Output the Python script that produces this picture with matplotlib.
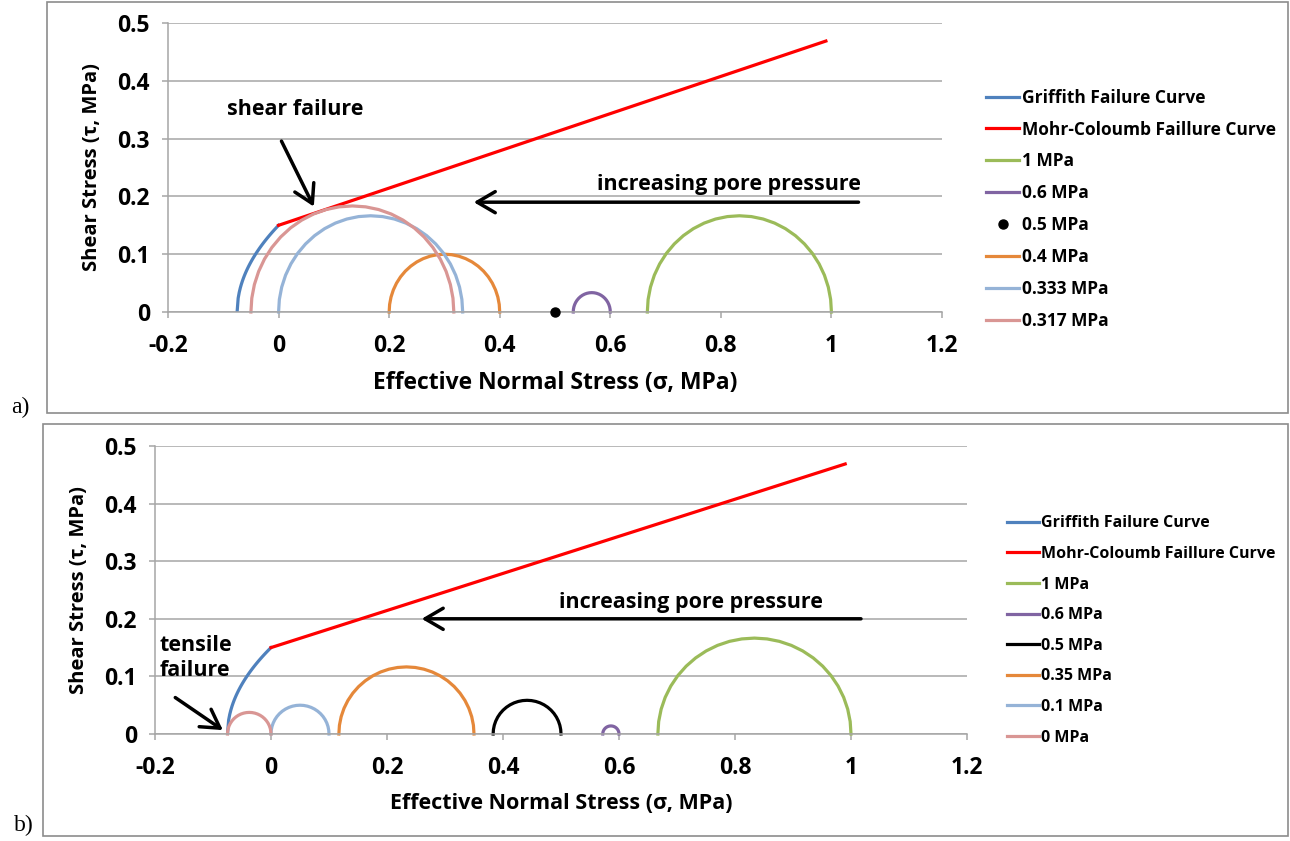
import numpy as np
import matplotlib
matplotlib.use('Agg')
import matplotlib.pyplot as plt
from matplotlib.patches import Rectangle

plt.rcParams['font.family'] = ['Open Sans', 'DejaVu Sans']
plt.rcParams['font.weight'] = 'bold'

# Failure envelope parameters
tensile_strength = 0.075      # Griffith: tau^2 = 4T(sigma + T)
mc_cohesion = 0.15
mc_slope = 0.322
mc_sigma_max = 0.99

# Mohr circles: (label, sigma3, sigma1, colour)
labels_a = ['1 MPa', '0.6 MPa', '0.5 MPa', '0.4 MPa', '0.333 MPa', '0.317 MPa']
sig3_a = [0.667, 0.533, 0.5, 0.2, 0.0, -0.05]
sig1_a = [1.0, 0.6, 0.5, 0.4, 0.333, 0.317]
colors_a = ['#9BBB59', '#8064A2', 'black', '#E5883A', '#95B3D7', '#D99694']

labels_b = ['1 MPa', '0.6 MPa', '0.5 MPa', '0.35 MPa', '0.1 MPa', '0 MPa']
sig3_b = [0.667, 0.572, 0.383, 0.117, 0.0, -0.075]
sig1_b = [1.0, 0.6, 0.5, 0.35, 0.1, 0.0]
colors_b = ['#9BBB59', '#8064A2', 'black', '#E5883A', '#95B3D7', '#D99694']

W, H = 1290, 841
fig = plt.figure(figsize=(W / 100, H / 100), dpi=100)

# panel frames
for (x0, y0, x1, y1) in [(47, 2, 1288, 413), (43, 424, 1288, 836)]:
    fig.add_artist(Rectangle((x0 / W, 1 - y1 / H), (x1 - x0) / W, (y1 - y0) / H,
                             transform=fig.transFigure, fill=False,
                             edgecolor='#8C8C8C', linewidth=1.2))
fig.text(20 / W, 1 - 407 / H, 'a)', family='Liberation Serif', fontweight='normal',
         fontsize=17, ha='center', va='center')
fig.text(24 / W, 1 - 825 / H, 'b)', family='Liberation Serif', fontweight='normal',
         fontsize=17, ha='center', va='center')


def make_axes(rect, xlabel_size):
    l, t, r, b = rect
    ax = fig.add_axes([l / W, 1 - b / H, (r - l) / W, (b - t) / H])
    ax.set_xlim(-0.2, 1.2)
    ax.set_ylim(0, 0.5)
    ax.set_xticks(np.arange(-0.2, 1.21, 0.2))
    ax.set_xticklabels(['-0.2', '0', '0.2', '0.4', '0.6', '0.8', '1', '1.2'])
    ax.set_yticks(np.arange(0, 0.51, 0.1))
    ax.set_yticklabels(['0', '0.1', '0.2', '0.3', '0.4', '0.5'])
    ax.grid(axis='y', color='#A6A6A6', linewidth=1.1)
    ax.set_axisbelow(True)
    for s in ['top', 'right']:
        ax.spines[s].set_visible(False)
    for s in ['left', 'bottom']:
        ax.spines[s].set_color('#A6A6A6')
        ax.spines[s].set_linewidth(1.1)
    ax.tick_params(axis='both', direction='out', length=4, color='#A6A6A6',
                   width=1.1, labelsize=16.5)
    ax.tick_params(axis='x', pad=12)
    ax.tick_params(axis='y', pad=9)
    for lab in ax.get_xticklabels() + ax.get_yticklabels():
        lab.set_fontweight('bold')
    ax.set_xlabel('Effective Normal Stress (\u03c3, MPa)', fontsize=xlabel_size,
                  fontweight='bold', labelpad=9)
    ax.set_ylabel('Shear Stress (\u03c4, MPa)', fontsize=14.5, fontweight='bold', labelpad=11)
    return ax


def draw_envelopes(ax):
    s = np.linspace(-tensile_strength, 0, 40)
    ax.plot(s, np.sqrt(np.clip(4 * tensile_strength * (s + tensile_strength), 0, None)),
            color='#4F81BD', lw=2.3, label='Griffith Failure Curve')
    s = np.linspace(0, mc_sigma_max, 2)
    ax.plot(s, mc_cohesion + mc_slope * s, color='#FF0000', lw=2.3,
            label='Mohr-Coloumb Faillure Curve')


def draw_circles(ax, labels, s3, s1, colors, dot_for_point=False):
    th = np.linspace(np.pi, 0, 25)
    for lab, a, b, c in zip(labels, s3, s1, colors):
        cen, r = (a + b) / 2, (b - a) / 2
        if r == 0 and dot_for_point:
            ax.plot([cen], [0], 'o', color=c, ms=6.5, label=lab, clip_on=False, zorder=5)
        else:
            ax.plot(cen + r * np.cos(th), r * np.sin(th), color=c, lw=2.3, label=lab,
                    clip_on=False)


def add_legend(ax, anchor, fs, spacing):
    leg = ax.legend(loc='upper left', bbox_to_anchor=anchor, bbox_transform=fig.transFigure,
                    frameon=False, fontsize=fs, handlelength=1.95, handletextpad=0.15,
                    labelspacing=spacing)
    for t in leg.get_texts():
        t.set_fontweight('bold')


arrow_kw = dict(arrowstyle='->, head_length=0.65, head_width=0.38', color='black', lw=2.5,
                mutation_scale=20)

# ---- panel a
ax1 = make_axes((168, 23, 942, 312), 16.5)
draw_envelopes(ax1)
draw_circles(ax1, labels_a, sig3_a, sig1_a, colors_a, dot_for_point=True)
add_legend(ax1, (970 / W, 1 - 73 / H), 12.5, 0.8)
ax1.annotate('', xy=(0.066, 0.178), xytext=(0.003, 0.3), arrowprops=arrow_kw)
ax1.text(0.03, 0.35, 'shear failure', fontsize=15.5, fontweight='bold', ha='center', va='center')
ax1.annotate('', xy=(0.348, 0.19), xytext=(1.054, 0.19), arrowprops=arrow_kw)
ax1.text(0.815, 0.22, 'increasing pore pressure', fontsize=15.5, fontweight='bold',
         ha='center', va='center')

# ---- panel b
ax2 = make_axes((155, 446, 967, 734), 15.5)
draw_envelopes(ax2)
draw_circles(ax2, labels_b, sig3_b, sig1_b, colors_b)
add_legend(ax2, (993 / W, 1 - 501 / H), 11.5, 0.915)
ax2.annotate('', xy=(-0.079, 0.004), xytext=(-0.169, 0.066), arrowprops=arrow_kw)
ax2.text(-0.192, 0.132, 'tensile\nfailure', fontsize=15.5, fontweight='bold', ha='left',
         va='center', linespacing=1.3)
ax2.annotate('', xy=(0.255, 0.2), xytext=(1.022, 0.2), arrowprops=arrow_kw)
ax2.text(0.724, 0.229, 'increasing pore pressure', fontsize=15.5, fontweight='bold',
         ha='center', va='center')

fig.savefig('out.png', dpi=100)
